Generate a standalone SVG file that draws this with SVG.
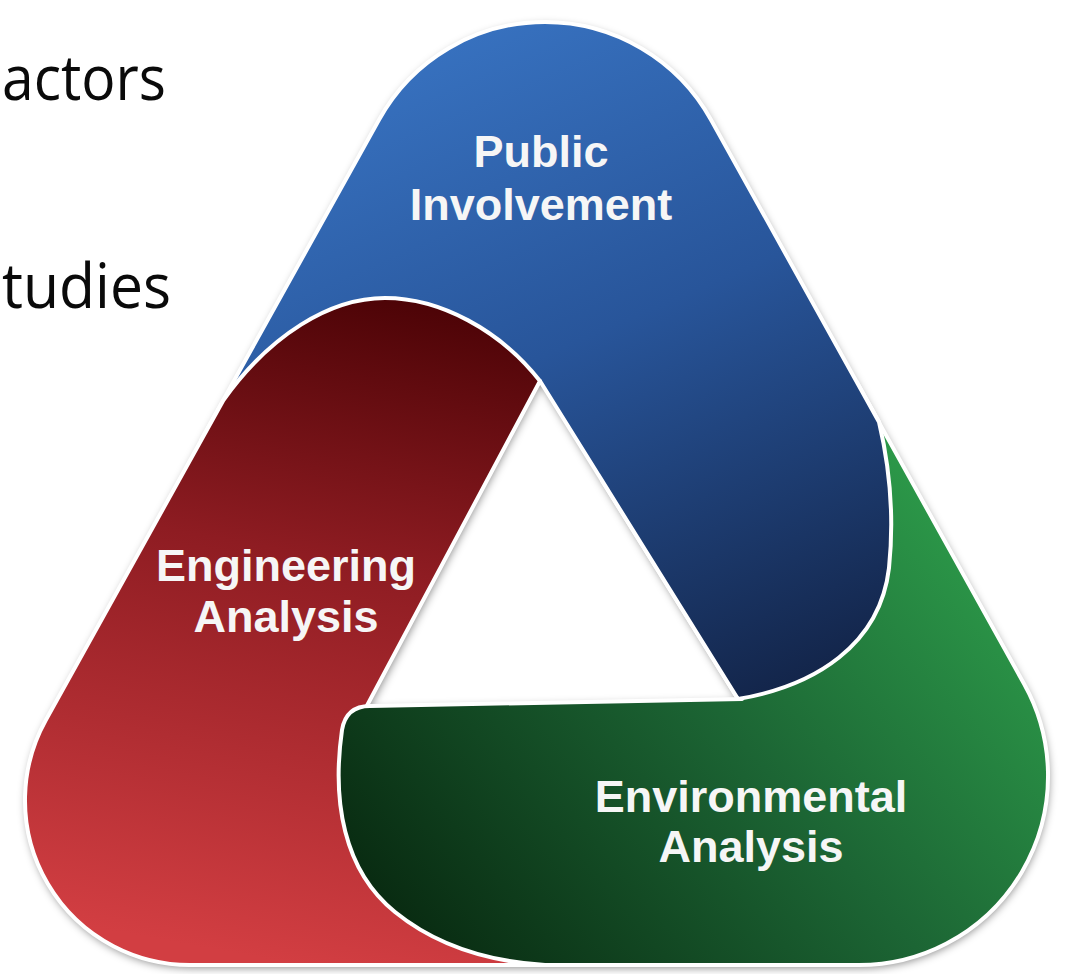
<svg xmlns="http://www.w3.org/2000/svg" xmlns:xlink="http://www.w3.org/1999/xlink" width="1076" height="974" viewBox="0 0 1076 974">
  <style>
    .band { stroke: #ffffff; stroke-width: 4; stroke-linejoin: round; }
    .label { font-family: "Liberation Sans", Arial, sans-serif; font-weight: bold; font-size: 45px; fill: #f6f6f6; text-anchor: middle; }
    .slide { font-family: "Open Sans", "Noto Sans", sans-serif; font-size: 62px; fill: #0a0a0a; }
  </style>
  <defs>
    <linearGradient id="gBlue" gradientUnits="userSpaceOnUse" x1="470" y1="30" x2="760" y2="700">
      <stop offset="0" stop-color="#3771bf"/>
      <stop offset="0.45" stop-color="#28559a"/>
      <stop offset="1" stop-color="#13254a"/>
    </linearGradient>
    <linearGradient id="gRed" gradientUnits="userSpaceOnUse" x1="420" y1="300" x2="300" y2="965">
      <stop offset="0" stop-color="#4c0306"/>
      <stop offset="0.4" stop-color="#8e1c22"/>
      <stop offset="1" stop-color="#d23e42"/>
    </linearGradient>
    <linearGradient id="gGreen" gradientUnits="userSpaceOnUse" x1="430" y1="950" x2="1000" y2="470">
      <stop offset="0" stop-color="#092c12"/>
      <stop offset="0.5" stop-color="#1c6534"/>
      <stop offset="1" stop-color="#2fa34d"/>
    </linearGradient>
    <filter id="shadow" x="-10%" y="-10%" width="120%" height="120%">
      <feGaussianBlur stdDeviation="4"/>
    </filter>
    <clipPath id="capClip">
      <polygon points="600,380 1076,380 1076,974 600,974"/>
    </clipPath>
    <path id="bluePath" d="M 540,381 L 738,699 C 815,686 880,645 889,568 C 895,510 888,460 879,422 L 711,119.7 A 189.8 189.8 0 0 0 379,119.7 L 201,440 L 470,440 Z"/>
  </defs>

  <!-- cropped slide text -->
  <text class="slide" x="2" y="100" textLength="164" lengthAdjust="spacingAndGlyphs">actors</text>
  <text class="slide" x="2" y="308" textLength="169" lengthAdjust="spacingAndGlyphs">tudies</text>

  <!-- soft outer shadow -->
  <path fill="#000" fill-opacity="0.45" fill-rule="evenodd" filter="url(#shadow)" transform="translate(1,3)"
        d="M 711,119.7 L 1024.3,684.3 A 189 189 0 0 1 859,965 L 189.8,965 A 164.8 164.8 0 0 1 45.7,720.2 L 379,119.7 A 189.8 189.8 0 0 1 711,119.7 Z M 540,381 L 368,706 L 738,699 Z"/>

  <g id="node-public">
    <use xlink:href="#bluePath" href="#bluePath" class="band" fill="url(#gBlue)"/>
    <text class="label" x="541" y="167">Public</text>
    <text class="label" x="541" y="220">Involvement</text>
  </g>

  <g id="node-engineering">
    <path class="band" fill="url(#gRed)" d="M 540,381 L 362,715 L 560,965 L 189.8,965 A 164.8 164.8 0 0 1 45.7,720.2 L 223.5,400 C 270,335 330,298 385,298 C 440,298 500,330 540,381 Z"/>
    <text class="label" x="286" y="581">Engineering</text>
    <text class="label" x="286" y="632">Analysis</text>
  </g>

  <g id="node-environmental">
    <path class="band" fill="url(#gGreen)" d="M 869.3,405 L 1024.3,684.3 A 189 189 0 0 1 859,965 L 545,965 C 480,961 432,942 395,912 C 343,870 332,800 342,730 Q 346,706 370,706 L 742,699 L 720,600 Z"/>
    <text class="label" x="751" y="812">Environmental</text>
    <text class="label" x="751" y="862">Analysis</text>
  </g>

  <!-- blue end lying over the green band -->
  <g id="node-public-overlap" clip-path="url(#capClip)">
    <use xlink:href="#bluePath" href="#bluePath" class="band" fill="url(#gBlue)"/>
  </g>
</svg>
